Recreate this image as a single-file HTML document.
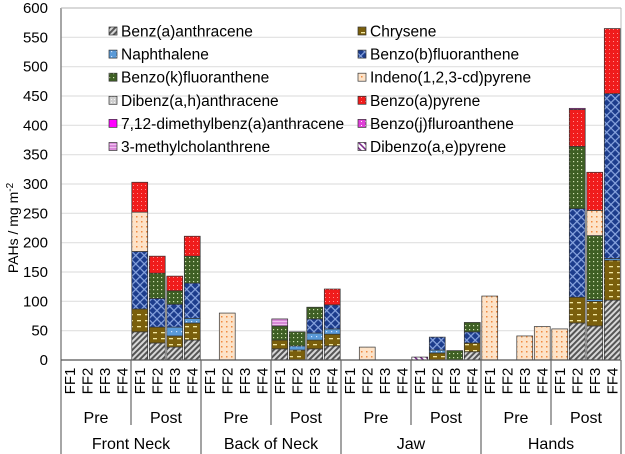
<!DOCTYPE html>
<html><head><meta charset="utf-8"><style>
html,body{margin:0;padding:0;background:#fff;}
svg{display:block;font-family:"Liberation Sans",sans-serif;}
</style></head><body>
<svg id="chart" width="625" height="454" viewBox="0 0 625 454" xmlns="http://www.w3.org/2000/svg">
<defs>
<pattern id="p0" width="4" height="4" patternUnits="userSpaceOnUse" patternTransform="rotate(45)"><rect width="4" height="4" fill="#d8d8d8"/><rect width="2" height="4" fill="#555"/></pattern>
<pattern id="p1" width="8" height="6" patternUnits="userSpaceOnUse"><rect width="8" height="6" fill="#7a5f0c"/><rect x="1" y="2" width="4" height="1.3" fill="#f2e6a0"/></pattern>
<pattern id="p2" width="5" height="5" patternUnits="userSpaceOnUse"><rect width="5" height="5" fill="#5a9ad8"/><rect x="1" y="1" width="1.2" height="1.2" fill="#cfe4ff"/></pattern>
<pattern id="p3" width="6" height="6" patternUnits="userSpaceOnUse" patternTransform="rotate(45)"><rect width="6" height="6" fill="#1c3c8c"/><rect width="1.2" height="6" fill="#8aa6e0"/><rect width="6" height="1.2" fill="#8aa6e0"/></pattern>
<pattern id="p4" width="4" height="4" patternUnits="userSpaceOnUse"><rect width="4" height="4" fill="#3e5f24"/><rect x="1" y="1" width="1.2" height="1.2" fill="#cfe0b0"/></pattern>
<pattern id="p5" width="5" height="5" patternUnits="userSpaceOnUse"><rect width="5" height="5" fill="#fde3c8"/><rect x="1" y="1" width="1.5" height="1.5" fill="#f08a40"/></pattern>
<pattern id="p6" width="3" height="3" patternUnits="userSpaceOnUse"><rect width="3" height="3" fill="#d0d0d0"/><rect width="1" height="1" fill="#f4f4f4"/></pattern>
<pattern id="p7" width="4" height="4" patternUnits="userSpaceOnUse"><rect width="4" height="4" fill="#f01c1c"/><rect x="1" y="1" width="1" height="1" fill="#ff9090"/></pattern>
<pattern id="p8" width="4" height="4" patternUnits="userSpaceOnUse"><rect width="4" height="4" fill="#ff00ff"/></pattern>
<pattern id="p9" width="4" height="4" patternUnits="userSpaceOnUse"><rect width="4" height="4" fill="#e040d8"/><rect x="1" y="1" width="1" height="1" fill="#fff"/></pattern>
<pattern id="p10" width="4" height="3" patternUnits="userSpaceOnUse"><rect width="4" height="3" fill="#d88ad8"/><rect width="4" height="1" fill="#f0c0f0"/></pattern>
<pattern id="p11" width="4" height="4" patternUnits="userSpaceOnUse" patternTransform="rotate(-45)"><rect width="4" height="4" fill="#fff"/><rect width="1.6" height="4" fill="#7a2a8a"/></pattern>
</defs>
<g id="grid"></g>
<g id="bars"></g>
<g id="axes"></g>
<g id="legend"></g>
</svg>
<script>
const seriesNames = ["Benz(a)anthracene","Chrysene","Naphthalene","Benzo(b)fluoranthene","Benzo(k)fluoranthene","Indeno(1,2,3-cd)pyrene","Dibenz(a,h)anthracene","Benzo(a)pyrene","7,12-dimethylbenz(a)anthracene","Benzo(j)fluroanthene","3-methylcholanthrene","Dibenzo(a,e)pyrene"];
const groups = ["Front Neck","Back of Neck","Jaw","Hands"];
const phases = ["Pre","Post"];
const ffLabels = ["FF1","FF2","FF3","FF4"];
const yTicks = [0,50,100,150,200,250,300,350,400,450,500,550,600];
// segment values per category (32 = 4 groups x Pre/Post x FF1-4)
const sBaA   = [0,0,0,0, 48,29,22,34, 0,0,0,0, 19,0,19,24, 0,0,0,0, 0,0,0,14, 0,0,0,0, 0,63,58,102];
const sChrys = [0,0,0,0, 39,27,19,29, 0,0,0,0, 15,17,15,20, 0,0,0,0, 0,12,0,15, 0,0,0,0, 0,44,42,68];
const sNaph  = [0,0,0,0, 0,0,15,8, 0,0,0,0, 0,7,12,9, 0,0,0,0, 0,5,0,0, 0,0,0,0, 0,0,3,3];
const sBbF   = [0,0,0,0, 98,49,39,60, 0,0,0,0, 0,0,24,41, 0,0,0,0, 0,22,0,19, 0,0,0,0, 0,151,0,281];
const sBkF   = [0,0,0,0, 0,43,23,46, 0,0,0,0, 24,24,20,0, 0,0,0,0, 0,0,16,16, 0,0,0,0, 0,106,109,0];
const sInd   = [0,0,0,0, 67,0,0,0, 0,80,0,0, 0,0,0,0, 0,22,0,0, 0,0,0,0, 109,0,41,57, 53,0,43,0];
const sDBahA = [0,0,0,0, 0,0,0,0, 0,0,0,0, 0,0,0,0, 0,0,0,0, 0,0,0,0, 0,0,0,0, 0,0,0,0];
const sBaP   = [0,0,0,0, 51,29,25,34, 0,0,0,0, 0,0,0,27, 0,0,0,0, 0,0,0,0, 0,0,0,0, 0,63,65,111];
const sDMBA  = [0,0,0,0, 0,0,0,0, 0,0,0,0, 0,0,0,0, 0,0,0,0, 0,0,0,0, 0,0,0,0, 0,0,0,0];
const sBjF   = [0,0,0,0, 0,0,0,0, 0,0,0,0, 0,0,0,0, 0,0,0,0, 0,0,0,0, 0,0,0,0, 0,2,0,0];
const s3MC   = [0,0,0,0, 0,0,0,0, 0,0,0,0, 12,0,0,0, 0,0,0,0, 0,0,0,0, 0,0,0,0, 0,0,0,0];
const sDBaeP = [0,0,0,0, 0,0,0,0, 0,0,0,0, 0,0,0,0, 0,0,0,0, 5,0,0,0, 0,0,0,0, 0,0,0,0];
const series = [sBaA,sChrys,sNaph,sBbF,sBkF,sInd,sDBahA,sBaP,sDMBA,sBjF,s3MC,sDBaeP];
const seriesKeys = ["benz-a-anthracene","chrysene","naphthalene","benzo-b-fluoranthene","benzo-k-fluoranthene","indeno-pyrene","dibenz-a-h-anthracene","benzo-a-pyrene","dmba","benzo-j-fluoranthene","3-methylcholanthrene","dibenzo-a-e-pyrene"];

const NS="http://www.w3.org/2000/svg";
const X0=61, X1=621, Y0=360, YT=8, N=32;
const cw=(X1-X0)/N;
const y=v=>Y0-(v/600)*(Y0-YT);
const x=i=>X0+i*cw;
function mk(tag,attrs,parent,text){const e=document.createElementNS(NS,tag);for(const k in attrs)e.setAttribute(k,attrs[k]);if(text!==undefined)e.textContent=text;parent.appendChild(e);return e;}
const G=document.getElementById('grid'),B=document.getElementById('bars'),A=document.getElementById('axes'),L=document.getElementById('legend');

yTicks.forEach(t=>{
  if(t>0){const g=mk('line',{x1:X0,x2:X1,y1:y(t),y2:y(t),stroke:'#e0e0e0','stroke-width':1.2},G);
  
  }
  const tl=mk('text',{x:48,y:y(t)+5,'text-anchor':'end','font-size':15,fill:'#000'},A,String(t));
  
  
});

for(let i=0;i<N;i++){
  let cum=0;
  series.forEach((s,k)=>{
    const v=s[i]; if(!v) return;
    const r=mk('rect',{x:x(i)+0.8,y:y(cum+v),width:cw-1.6,height:y(cum)-y(cum+v),fill:'url(#p'+k+')',stroke:'#333','stroke-width':0.7},B);
    
    
    cum+=v;
  });
}

const ya=mk('line',{x1:X0,x2:X0,y1:YT,y2:454,stroke:'#888','stroke-width':1.5},A);


const xa=mk('line',{x1:X0,x2:X1,y1:Y0,y2:Y0,stroke:'#555','stroke-width':1.3},A);


const rb=mk('line',{x1:X1,x2:X1,y1:YT,y2:Y0,stroke:'#bbb','stroke-width':1},A);


const tb=mk('line',{x1:X0,x2:X1,y1:YT,y2:YT,stroke:'#bbb','stroke-width':1},A);



for(let i=0;i<N;i++){
  const cx=x(i)+cw/2+5;
  const t=mk('text',{x:cx,y:381,'text-anchor':'middle','font-size':15,transform:'rotate(-90 '+cx+' 381)'},A,ffLabels[i%4]);
  
  
}
groups.forEach((g,gi)=>{
  phases.forEach((p,pi)=>{
    const px=x(gi*8+pi*4)+2*cw;
    const t=mk('text',{x:px,y:423,'text-anchor':'middle','font-size':16},A,p);
    
    
  });
  const sx=x(gi*8+4);
  const s=mk('line',{x1:sx,x2:sx,y1:Y0,y2:425,stroke:'#666','stroke-width':1.2},A);
  
  
  const ex=x(gi*8+8);
  const e=mk('line',{x1:ex,x2:ex,y1:Y0,y2:454,stroke:'#666','stroke-width':1.2},A);
  
  
  const gt=mk('text',{x:x(gi*8)+4*cw,y:449,'text-anchor':'middle','font-size':16},A,g);
  
  
});
const yt=mk('text',{x:0,y:0,'text-anchor':'middle','font-size':14,transform:'translate(18 228) rotate(-90)'},A);


yt.innerHTML='PAHs / mg m<tspan dy="-5" font-size="10">-2</tspan>';

seriesNames.forEach((n,k)=>{
  const col=k%2, row=Math.floor(k/2);
  const lx=col===0?109:358, ly=31+row*23.1;
  const g=mk('g',{},L);
  
  
  mk('rect',{x:lx,y:ly-4,width:8,height:8,fill:'url(#p'+k+')',stroke:'#333','stroke-width':0.7},g);
  mk('text',{x:lx+12,y:ly+5.5,'font-size':15.5,fill:'#000'},g,n);
});
</script>
</body></html>
